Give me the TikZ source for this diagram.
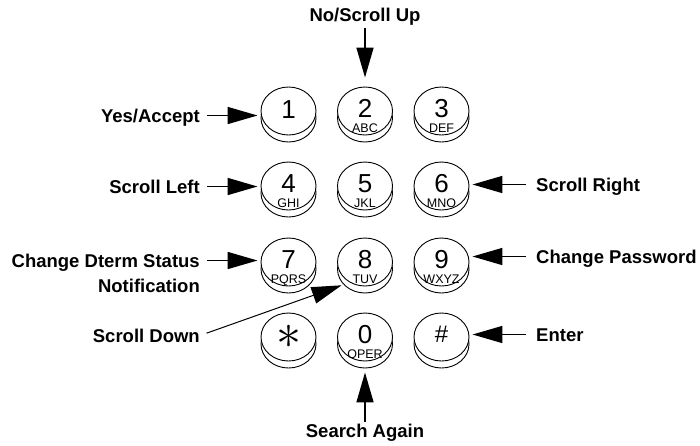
\documentclass[tikz,border=0pt]{standalone}
\usepackage{graphicx}
\usepackage{fontspec}
\setmainfont{Liberation Sans}
\usetikzlibrary{arrows.meta,shapes.geometric}
\newcommand\keyface[3]{%
  \node[lip] (l#1) at (#2,#3+7) {};
  \node[face] (b#1) at (#2,#3) {};
}
\newcommand\keylabel[5]{%
  \node[digit] (d#1) at (#2,#3+6.5) {#4};
  \node[letters] (t#1) at (#2,#3+21) {#5};
}
\begin{document}
\begin{tikzpicture}[x=1pt,y=-1pt,
  face/.style={ellipse,draw,fill=white,line width=0.9pt,minimum width=55pt,minimum height=48pt,inner sep=0pt},
  lip/.style={face},
  digit/.style={font=\fontsize{26}{26}\selectfont,inner sep=0pt,anchor=base},
  letters/.style={font=\fontsize{12.5}{12.5}\selectfont,inner sep=0pt,anchor=base},
  lbl/.style={font=\bfseries\fontsize{18.5}{20}\selectfont,inner sep=0pt,text height=13pt,text depth=0pt},
  arr/.style={line width=1.6pt,-{Triangle[length=30pt,width=17pt]}},
]
\useasboundingbox (0,0) rectangle (700,445);
% buttons
\keyface{1}{288.5}{111}
\keyface{2}{365}{111}
\keyface{3}{441.5}{111}
\keyface{4}{288.5}{186}
\keyface{5}{365}{186}
\keyface{6}{441.5}{186}
\keyface{7}{288.5}{262}
\keyface{8}{365}{262}
\keyface{9}{441.5}{262}
\keyface{s}{288.5}{337}
\keyface{0}{365}{337}
\keyface{h}{441.5}{337}
\node[digit] (d1) at (288.5,118.5) {1};
\keylabel{2}{365}{111}{2}{ABC}
\keylabel{3}{441.5}{111}{3}{DEF}
\keylabel{4}{288.5}{186}{4}{GHI}
\keylabel{5}{365}{186}{5}{JKL}
\keylabel{6}{441.5}{186}{6}{MNO}
\keylabel{7}{288.5}{262}{7}{PQRS}
\keylabel{8}{365}{262}{8}{TUV}
\keylabel{9}{441.5}{262}{9}{WXYZ}
\keylabel{0}{365}{337}{0}{OPER}
\node[inner sep=0pt] (ds) at (288.5,337) {\scalebox{5}{$\ast$}};
\node[font=\fontsize{24}{24}\selectfont,inner sep=0pt,anchor=base] (dh) at (441.5,342) {\#};
% labels
\node[lbl,anchor=south] (up) at (365,22) {No/Scroll Up};
\node[lbl,anchor=east] (yes) at (200,115.5) {Yes/Accept};
\node[lbl,anchor=east] (sl) at (200,186.5) {Scroll Left};
\node[lbl,anchor=east] (chg) at (200,260.5) {Change Dterm Status};
\node[lbl,anchor=east] (notif) at (200,285.5) {Notification};
\node[lbl,anchor=east] (sd) at (200,335.5) {Scroll Down};
\node[lbl,anchor=west] (sr) at (536,184.5) {Scroll Right};
\node[lbl,anchor=west] (cp) at (536,256.5) {Change Password};
\node[lbl,anchor=west] (ent) at (536,334.5) {Enter};
\node[lbl,anchor=north] (sa) at (365,424) {Search Again};
% arrows
\draw[arr,shorten <=6pt,shorten >=9pt] (up.south) -- (up.south |- b2.north);
\draw[arr,shorten <=7pt,shorten >=3pt] (yes.east) -- (yes.east -| b1.west);
\draw[arr,shorten <=7pt,shorten >=3pt] (sl.east) -- (sl.east -| b4.west);
\draw[arr,shorten <=7pt,shorten >=3pt] (chg.east) -- (chg.east -| b7.west);
\draw[line width=1pt,-{Triangle[length=30pt,width=17pt]},shorten <=7pt,shorten >=2pt] (sd.east) -- (l8.216);
\draw[arr,shorten <=10pt,shorten >=3pt] (sr.west) -- (sr.west -| b6.east);
\draw[arr,shorten <=10pt,shorten >=3pt] (cp.west) -- (cp.west -| b9.east);
\draw[arr,shorten <=10pt,shorten >=3pt] (ent.west) -- (ent.west -| bh.east);
\draw[arr,shorten <=2pt,shorten >=4pt] (sa.north) -- (sa.north |- l0.south);
\end{tikzpicture}
\end{document}
